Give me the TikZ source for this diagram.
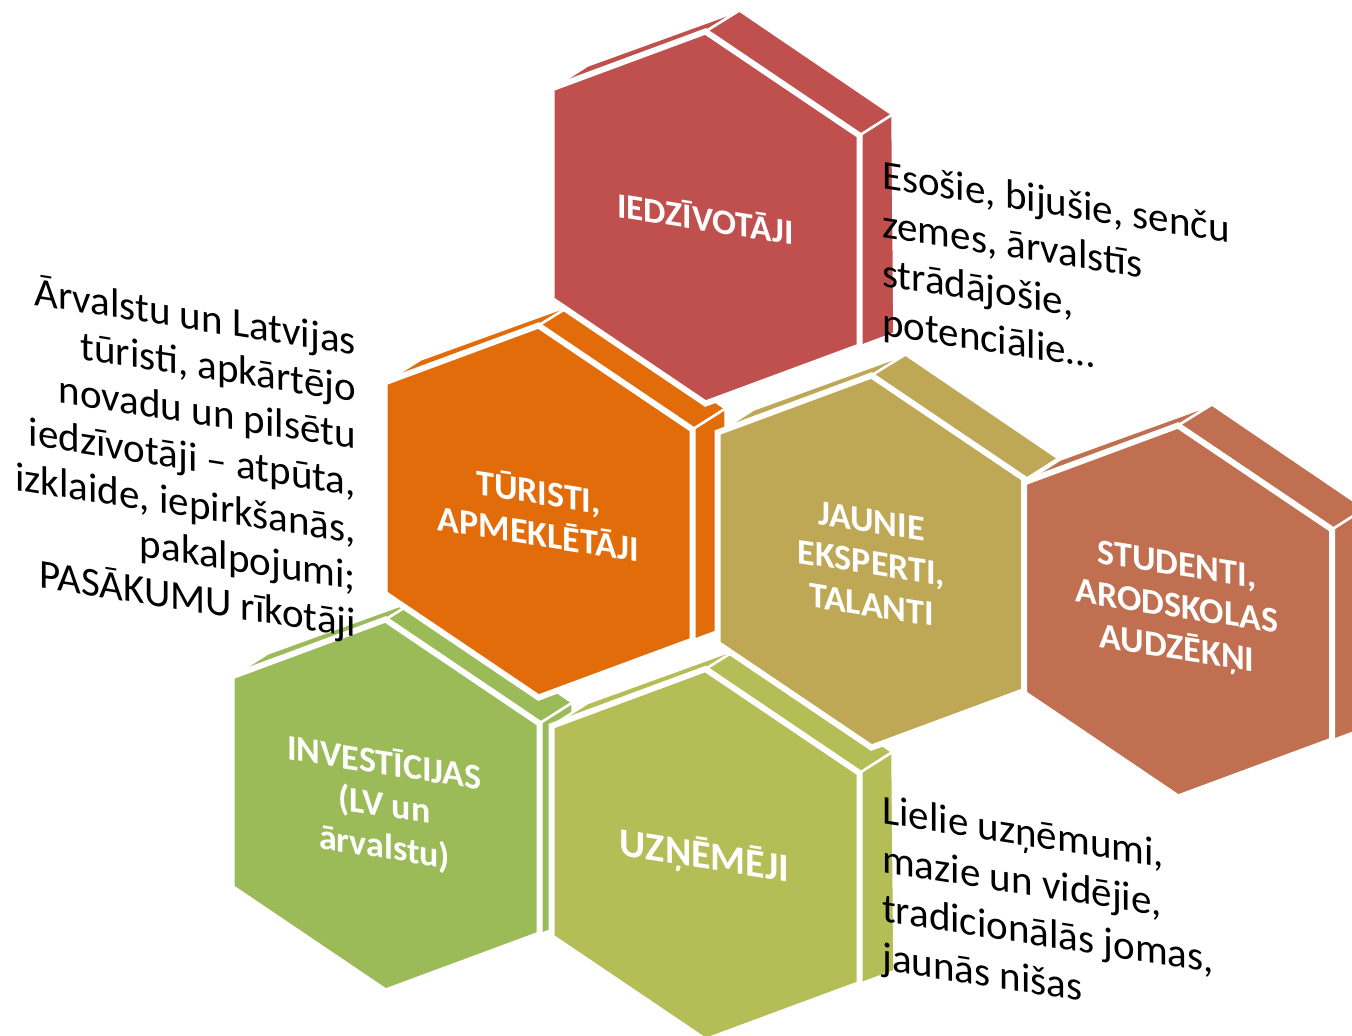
\documentclass[tikz,border=0pt]{standalone}
\usepackage{fontspec}
\setmainfont{Carlito}
\definecolor{cIedz}{HTML}{C0504D}
\definecolor{cTur}{HTML}{E36C0A}
\definecolor{cJau}{HTML}{BEA755}
\definecolor{cStu}{HTML}{C07050}
\definecolor{cInv}{HTML}{9BBB59}
\definecolor{cUzn}{HTML}{B5BD56}
\tikzset{
  sideface/.style={fill=#1, draw=white, line width=2.5pt, line join=round},
  frontface/.style={fill=#1, draw=white, line width=6pt, line join=miter},
  hexlabel/.style={text=white, font=\fontsize{36}{42}\selectfont\bfseries, align=center,
    transform shape, yslant=-0.156, inner sep=0pt},
  desc/.style={text=black, font=\fontsize{41}{49}\selectfont,
    transform shape, yslant=-0.156, inner sep=0pt},
}
\newcommand\hexSides[3]{%
  \path[sideface=#3, shift={(#1,#2)}] (-154,-129) -- (0,-186) -- (34,-207) -- (-118,-152) -- cycle;
  \path[sideface=#3, shift={(#1,#2)}] (0,-186) -- (154,-82) -- (187,-103) -- (34,-207) -- cycle;
  \path[sideface=#3, shift={(#1,#2)}] (154,-82) -- (154,129) -- (189,116) -- (187,-103) -- cycle;
}
\newcommand\hexFront[3]{%
  \path[frontface=#3, shift={(#1,#2)}] (-154,-129) -- (0,-186) -- (154,-82) -- (154,129) -- (0,186) -- (-154,82) -- cycle;
}
\begin{document}
\begin{tikzpicture}[x=1pt,y=-1pt]
\useasboundingbox (0,0) rectangle (1352,1036);
% side faces
\hexSides{705.5}{217.5}{cIedz}
\hexSides{538.5}{511.5}{cTur}
\hexSides{871.5}{561.5}{cJau}
\hexSides{1178}{611.5}{cStu}
\hexSides{385.5}{805.5}{cInv}
\hexSides{705.5}{855}{cUzn}
% front faces
\hexFront{705.5}{217.5}{cIedz}
\hexFront{538.5}{511.5}{cTur}
\hexFront{871.5}{561.5}{cJau}
\hexFront{1178}{611.5}{cStu}
\hexFront{385.5}{805.5}{cInv}
\hexFront{705.5}{855}{cUzn}
% labels
\node[hexlabel, font=\fontsize{35.5}{42}\selectfont\bfseries] (iedz) at (705.5,217.5) {IEDZĪVOTĀJI};
\node[hexlabel] (tur) at (538.5,511.5) {TŪRISTI,\\APMEKLĒTĀJI};
\node[hexlabel] (jau) at (871.5,563) {JAUNIE\\EKSPERTI,\\TALANTI};
\node[hexlabel] (stu) at (1177,609) {STUDENTI,\\ARODSKOLAS\\AUDZĒKŅI};
\node[hexlabel] (inv) at (384.5,805.5) {INVESTĪCIJAS\\(LV un\\ārvalstu)};
\node[hexlabel, font=\fontsize{40}{46}\selectfont\bfseries] (uzn) at (704.5,857) {UZŅĒMĒJI};
% descriptions
\node[desc, anchor=north west, align=left] (iedzdesc) at (882,156)
  {\rule{0pt}{32pt}Esošie, bijušie, senču\\zemes, ārvalstīs\\strādājošie,\\potenciālie…};
\node[desc, anchor=north east, align=right, font=\fontsize{41}{47}\selectfont] (turdesc) at (356,323)
  {\rule{0pt}{32pt}Ārvalstu un Latvijas\\tūristi, apkārtējo\\novadu un pilsētu\\iedzīvotāji – atpūta,\\izklaide, iepirkšanās,\\pakalpojumi;\\PASĀKUMU rīkotāji};
\node[desc, anchor=north west, align=left] (uzndesc) at (882,791)
  {\rule{0pt}{32pt}Lielie uzņēmumi,\\mazie un vidējie,\\tradicionālās jomas,\\jaunās nišas};
\end{tikzpicture}
\end{document}
